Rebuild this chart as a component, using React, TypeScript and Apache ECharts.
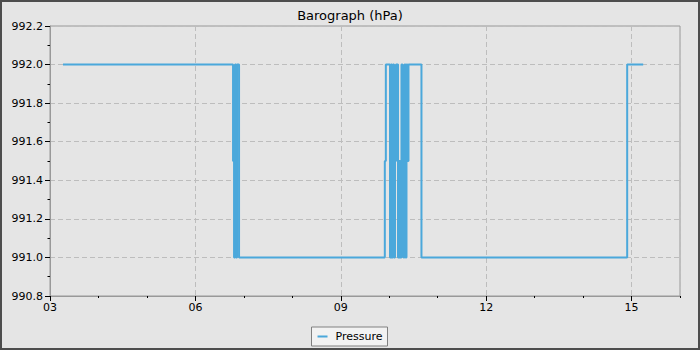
import React, { useEffect, useRef } from "react";
import * as echarts from "echarts";

// Time of reading (hour of day)
const hours = [
  3.268,
  6.777, 6.798, 6.818, 6.839, 6.859, 6.880, 6.901,
  9.909, 9.930,
  10.016, 10.037, 10.057, 10.078, 10.099, 10.119, 10.140,
  10.181, 10.206, 10.226,
  10.253, 10.274, 10.294, 10.315, 10.336, 10.356, 10.377, 10.397,
  10.665,
  14.910, 15.240,
];
// Pressure (hPa)
const pressure = [
  992.0,
  991.5, 991.0, 992.0, 991.0, 992.0, 992.0, 991.0,
  991.5, 992.0,
  991.0, 992.0, 991.0, 992.0, 991.0, 991.5, 992.0,
  991.0, 991.5, 991.0,
  992.0, 991.5, 991.0, 992.0, 991.0, 992.0, 991.5, 992.0,
  991.0,
  992.0, 992.0,
];
const xTickLabels = ["03", "06", "09", "12", "15"];
const xMajorTicks = [3, 6, 9, 12, 15];

export default function App() {
  const ref = useRef<HTMLDivElement>(null);
  useEffect(() => {
    document.body.style.margin = "0";
    const chart = echarts.init(ref.current!, null, { renderer: "svg" });
    const font = "DejaVu Sans";
    const data = hours.map((h, i) => [h, pressure[i]]);
    chart.setOption({
      animation: false,
      backgroundColor: "#e5e5e5",
      textStyle: { fontFamily: font },
      title: {
        text: "Barograph (hPa)",
        left: "center",
        top: 4,
        textStyle: { fontFamily: font, fontSize: 13, fontWeight: "normal", color: "#000" },
      },
      graphic: [
        {
          type: "rect",
          shape: { x: 1, y: 1, width: 698, height: 348 },
          style: { fill: "none", stroke: "#4d4d4d", lineWidth: 2 },
          silent: true,
          z: 100,
        },
      ],
      legend: {
        left: "center",
        top: 327,
        data: ["Pressure"],
        icon: "rect",
        itemWidth: 10,
        itemHeight: 2,
        padding: [4, 5, 4, 6],
        backgroundColor: "#f2f2f2",
        borderColor: "#808080",
        borderWidth: 1,
        borderRadius: 0,
        textStyle: { fontFamily: font, fontSize: 11, color: "#000", padding: [0, 0, 0, 3] },
      },
      grid: {
        left: 50,
        right: 20,
        top: 26,
        bottom: 54,
        show: true,
        backgroundColor: "#e5e5e5",
        borderColor: "#999",
        borderWidth: 1,
      },
      xAxis: [
        {
          type: "value",
          min: 3,
          max: 16,
          interval: 3,
          axisLine: { show: true, lineStyle: { color: "#999" } },
          axisTick: { show: true, length: 5, lineStyle: { color: "#000" } },
          axisLabel: {
            fontFamily: font,
            fontSize: 11,
            color: "#000",
            margin: 6,
            showMaxLabel: false,
            formatter: (v: number) => {
              const idx = xMajorTicks.indexOf(Math.round(v));
              return idx >= 0 && Math.abs(v - Math.round(v)) < 1e-6 ? xTickLabels[idx] : "";
            },
          },
          splitLine: { show: true, lineStyle: { color: "#bdbdbd", type: [5, 3] } },
        },
        {
          type: "value",
          min: 3,
          max: 16,
          interval: 1,
          position: "bottom",
          axisLine: { show: false },
          axisTick: { show: true, length: 2, lineStyle: { color: "#000" } },
          axisLabel: { show: false },
          splitLine: { show: false },
        },
      ],
      yAxis: {
        type: "value",
        min: 990.8,
        max: 992.2,
        interval: 0.2,
        axisLine: { show: true, lineStyle: { color: "#999" } },
        axisTick: { show: true, length: 5, lineStyle: { color: "#000" } },
        minorTick: { show: true, splitNumber: 2, length: 2.5, lineStyle: { color: "#000" } },
        axisLabel: {
          fontFamily: font,
          fontSize: 11,
          color: "#000",
          margin: 7,
          formatter: (v: number) => v.toFixed(1),
        },
        splitLine: { show: true, lineStyle: { color: "#bdbdbd", type: [5, 3] } },
      },
      series: [
        {
          name: "Pressure",
          type: "line",
          step: "end",
          xAxisIndex: 0,
          data,
          showSymbol: false,
          symbol: "none",
          color: "#4ba8db",
          lineStyle: { width: 2, color: "#4ba8db" },
        },
      ],
    });
    return () => chart.dispose();
  }, []);
  return <div ref={ref} style={{ width: 700, height: 350 }} />;
}
